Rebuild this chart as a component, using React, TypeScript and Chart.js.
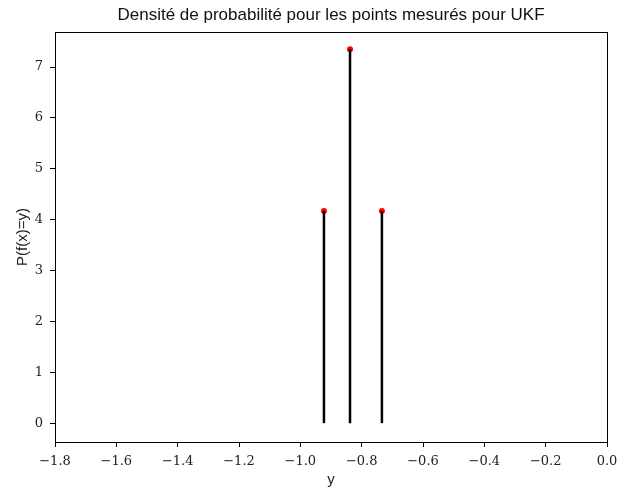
import React, { useEffect, useRef } from "react";
import { Chart, registerables } from "chart.js";

Chart.register(...registerables);

const stemX = [-0.923, -0.838, -0.734];
const stemY = [4.17, 7.35, 4.17];
const xTicks = [-1.8, -1.6, -1.4, -1.2, -1.0, -0.8, -0.6, -0.4, -0.2, 0.0];
const yTicks = [0, 1, 2, 3, 4, 5, 6, 7];
const titleText = "Densité de probabilité pour les points mesurés pour UKF";
const xLabel = "y";
const yLabel = "P(f(x)=y)";

const fmt = (v: number) => {
  const s = Math.abs(v).toFixed(1);
  return v < -1e-9 ? "\u2212" + s : s;
};

const framePlugin = {
  id: "frame",
  afterDraw(chart: any) {
    const { ctx, chartArea } = chart;
    ctx.save();
    ctx.strokeStyle = "#000";
    ctx.lineWidth = 1;
    ctx.strokeRect(
      Math.round(chartArea.left) + 0.5,
      Math.round(chartArea.top) + 0.5,
      Math.round(chartArea.right - chartArea.left),
      Math.round(chartArea.bottom - chartArea.top)
    );
    ctx.fillStyle = "#111";
    ctx.font = "17px 'Liberation Sans', sans-serif";
    ctx.textAlign = "center";
    ctx.textBaseline = "middle";
    ctx.fillText(titleText, (chartArea.left + chartArea.right) / 2, 15);
    ctx.restore();
  },
};

export default function App() {
  const ref = useRef<HTMLCanvasElement | null>(null);
  useEffect(() => {
    document.body.style.margin = "0";
    if (!ref.current) return;
    const stems = stemX.map((x, i) => ({
      type: "line" as const,
      data: [
        { x, y: 0 },
        { x, y: stemY[i] },
      ],
      borderColor: "#000",
      borderWidth: 2.5,
      pointRadius: 0,
      showLine: true,
    }));
    const dots = {
      type: "scatter" as const,
      data: stemX.map((x, i) => ({ x, y: stemY[i] })),
      backgroundColor: "#ff0000",
      borderColor: "#ff0000",
      pointRadius: 3,
      borderWidth: 0,
    };
    const chart = new Chart(ref.current, {
      type: "scatter",
      data: { datasets: [...stems, dots] as any },
      options: {
        animation: false,
        responsive: false,
        devicePixelRatio: 1,
        layout: { padding: { top: 32, right: 12, left: 0, bottom: 0 } },
        plugins: { legend: { display: false }, tooltip: { enabled: false }, title: { display: false } },
        scales: {
          x: {
            type: "linear",
            min: -1.8,
            max: 0.0,
            afterBuildTicks: (s: any) => {
              s.ticks = xTicks.map((v) => ({ value: v }));
            },
            afterFit: (s: any) => {
              s.height = 49;
              s.paddingLeft = 0;
              s.paddingRight = 0;
            },
            grid: { drawOnChartArea: false, tickLength: 5, color: "#000" },
            border: { display: false },
            ticks: {
              color: "#222",
              font: { family: "'DejaVu Serif', serif", size: 13 },
              padding: 7,
              maxRotation: 0,
              callback: (v: any) => fmt(Number(v)),
            },
            title: {
              display: true,
              text: xLabel,
              color: "#222",
              font: { family: "'Liberation Sans', sans-serif", size: 15 },
              padding: { top: 0, bottom: 2 },
            },
          },
          y: {
            type: "linear",
            min: -0.37,
            max: 7.69,
            afterBuildTicks: (s: any) => {
              s.ticks = yTicks.map((v) => ({ value: v }));
            },
            afterFit: (s: any) => {
              s.width = 55;
              s.paddingTop = 0;
              s.paddingBottom = 0;
            },
            grid: { drawOnChartArea: false, tickLength: 5, color: "#000" },
            border: { display: false },
            ticks: {
              color: "#222",
              font: { family: "'DejaVu Serif', serif", size: 13 },
              padding: 7,
              callback: (v: any) => String(v),
            },
            title: {
              display: true,
              text: yLabel,
              color: "#222",
              font: { family: "'Liberation Sans', sans-serif", size: 15 },
              padding: { top: 14, bottom: 0 },
            },
          },
        },
      },
      plugins: [framePlugin],
    });
    return () => chart.destroy();
  }, []);
  return (
    <div style={{ width: 619, height: 491, background: "#fff" }}>
      <canvas ref={ref} width={619} height={491} style={{ display: "block" }} />
    </div>
  );
}
